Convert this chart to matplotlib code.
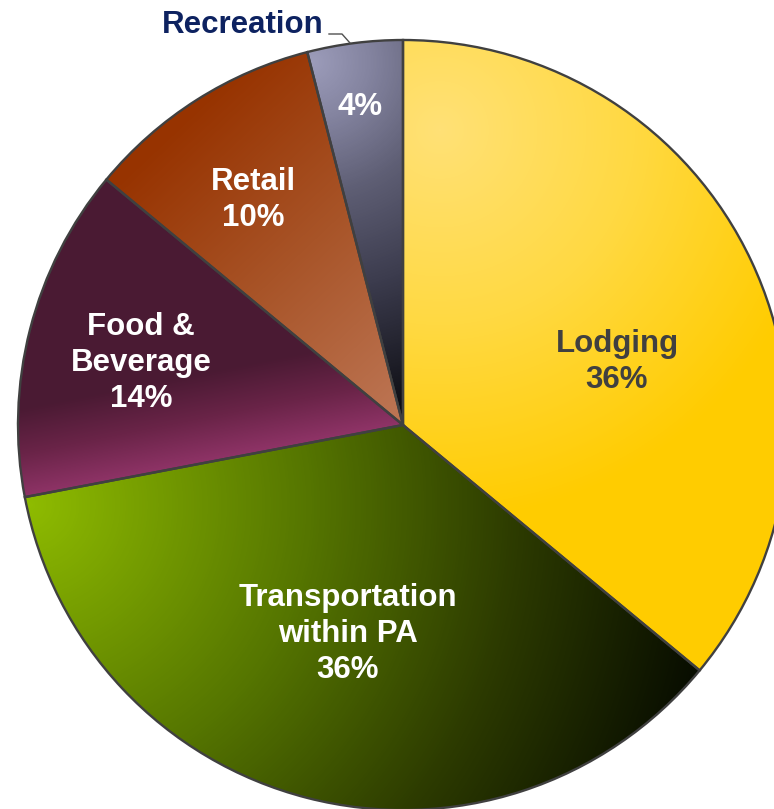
import numpy as np
import matplotlib.pyplot as plt
from matplotlib.colors import LinearSegmentedColormap

# spending shares, clockwise from 12 o'clock
categories = ['Lodging', 'Transportation\nwithin PA', 'Food &\nBeverage', 'Retail', 'Recreation']
shares = [36, 36, 14, 10, 4]

W, H = 774, 809
cx, cy, R = 403, 425, 385

fig = plt.figure(figsize=(W / 100, H / 100), dpi=100)
ax = fig.add_axes([0, 0, 1, 1])

# y axis points down, so counterclock=True in data space reads clockwise on screen
wedges, _ = ax.pie(shares, startangle=-90, counterclock=True, center=(cx, cy),
                   radius=R, frame=True,
                   wedgeprops=dict(facecolor='none', edgecolor='#404040',
                                   linewidth=1.7, zorder=3))

X, Y = np.meshgrid(np.arange(W) + 0.5, np.arange(H) + 0.5)


def ramp(t, stops):
    cmap = LinearSegmentedColormap.from_list('g', stops)
    return cmap(np.clip(t, 0, 1))


def radial(x0, y0, r, stops):
    return ramp(np.hypot(X - x0, Y - y0) / r, stops)


def linear(x0, y0, x1, y1, stops):
    dx, dy = x1 - x0, y1 - y0
    t = ((X - x0) * dx + (Y - y0) * dy) / (dx * dx + dy * dy)
    return ramp(t, stops)


# bottom edge of the food slice, fade measured away from it
bx, by = -75 / 388.3, -381 / 388.3
d_food = ((X - 22) * bx + (Y - 500) * by) / 90.0

fills = [
    radial(440, 130, 390, [(0, '#FFE176'), (0.5, '#FFD942'), (1, '#FFCC00')]),
    radial(30, 505, 700, [(0, '#8EBB00'), (0.4, '#557500'), (0.7, '#2C3A00'), (1, '#060A00')]),
    ramp(d_food, [(0, '#903468'), (0.5, '#6A2448'), (1, '#4A1A33')]),
    linear(150, 150, 395, 410, [(0, '#973300'), (0.5, '#A85428'), (1, '#BC7452')]),
    radial(312, 62, 380, [(0, '#9C9CBA'), (0.15, '#8484A0'), (0.35, '#5E5E74'),
                          (0.6, '#3C3C4E'), (0.82, '#1E1E28'), (1, '#06060A')]),
]

for w, img in zip(wedges, fills):
    im = ax.imshow(img, extent=(0, W, H, 0), origin='upper', zorder=1,
                   interpolation='bilinear')
    im.set_clip_path(w)

font = dict(family=['Liberation Sans', 'DejaVu Sans'], fontweight='bold',
            fontsize=22.5, ha='center', va='center', linespacing=1.28, zorder=5)

ax.text(617, 362, f'{categories[0]}\n{shares[0]}%', color='#404040', **font)
ax.text(348, 634, f'{categories[1]}\n{shares[1]}%', color='white', **font)
ax.text(141, 363, f'{categories[2]}\n{shares[2]}%', color='white', **font)
ax.text(253, 200, f'{categories[3]}\n{shares[3]}%', color='white', **font)
ax.text(360, 107, f'{shares[4]}%', color='white', **font)
ax.text(243, 25, categories[4], color='#0D2260', **font)

# leader line from the Recreation label to its slice
ax.plot([329, 342, 350], [34, 34, 43], color='#505050', linewidth=1.0, zorder=5)

ax.set_xlim(0, W)
ax.set_ylim(H, 0)
ax.set_aspect('equal')
ax.axis('off')

fig.savefig('out.png', dpi=100, facecolor='white')
